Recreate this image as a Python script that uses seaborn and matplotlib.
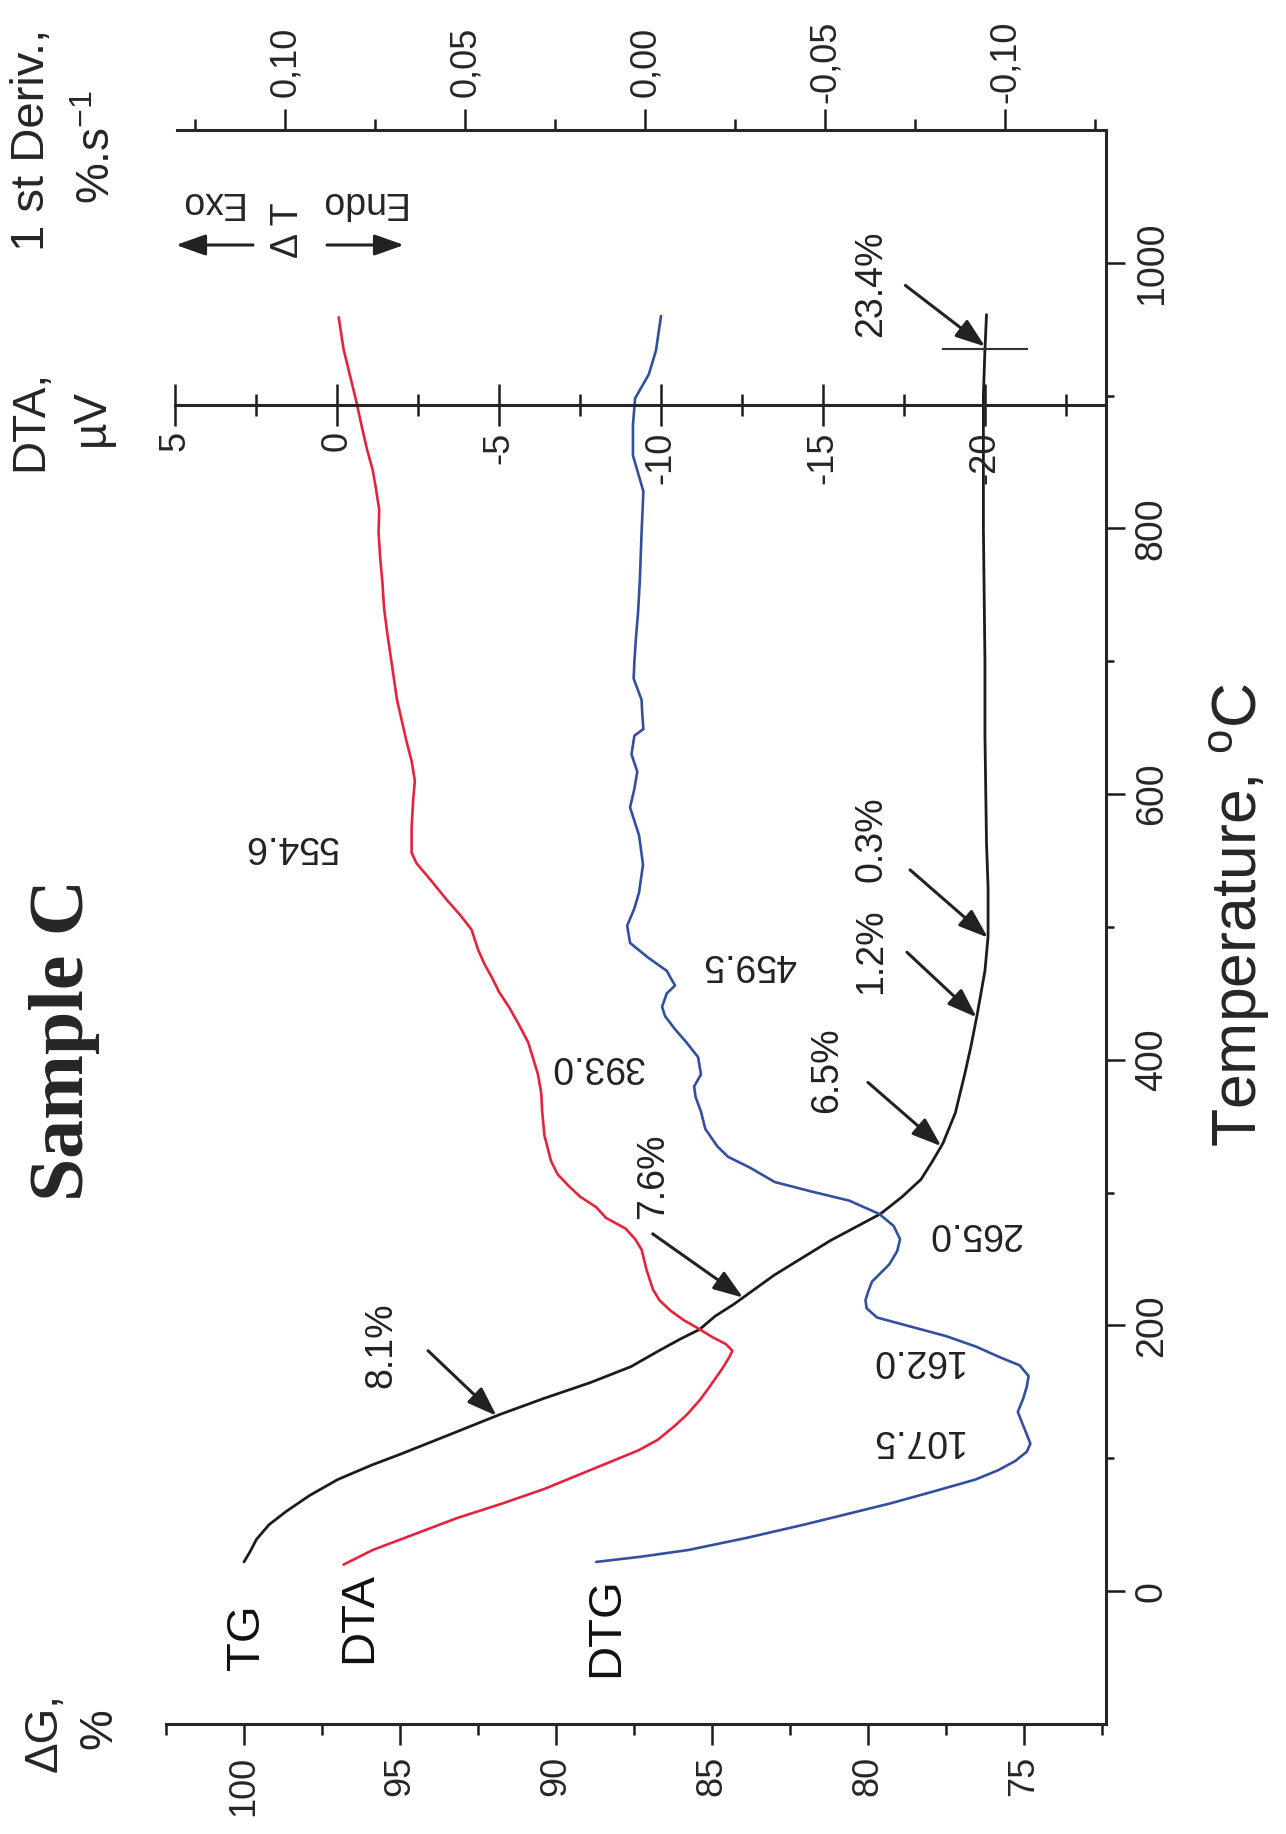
import numpy as np
import pandas as pd
import seaborn as sns
import matplotlib as mpl
import matplotlib.pyplot as plt
from matplotlib.ticker import FixedLocator

# --- data (temperature in deg C) ---
tg_temp = [22, 30, 39, 50, 60, 72, 84, 95, 103, 117, 133, 145, 157, 169, 181, 190, 197, 207,
           216, 238, 251, 264, 284, 297, 310, 323, 337, 360, 389, 410, 434, 467, 493, 530,
           563, 644, 700, 800, 900, 935, 961]
tg_mass = [100.0, 99.8, 99.6, 99.2, 98.65, 97.9, 97.0, 95.9, 95.0, 93.5, 91.8, 90.4, 88.9, 87.6,
           86.7, 86.0, 85.4, 84.9, 84.3, 83.0, 82.1, 81.2, 79.6, 78.9, 78.3, 77.95, 77.6, 77.2,
           76.9, 76.7, 76.5, 76.25, 76.15, 76.15, 76.2, 76.25, 76.25, 76.3, 76.3, 76.25, 76.2]

dta_temp = [20, 31, 43, 55, 66, 77, 88, 98, 106, 114, 124, 133, 144, 154, 168, 176, 181, 186,
            191, 197, 204, 211, 219, 227, 242, 257, 265, 273, 281, 289, 297, 305, 314, 324,
            343, 361, 375, 389, 401, 413, 427, 440, 451, 461, 472, 483, 498, 509, 520, 535,
            548, 556, 575, 596, 610, 625, 639, 655, 671, 696, 721, 740, 759, 778, 797, 814,
            830, 844, 859, 878, 895, 915, 935, 959]
dta_uv = [-0.2, -1.1, -2.4, -3.7, -5.1, -6.4, -7.5, -8.5, -9.3, -9.9, -10.4, -10.8, -11.2,
          -11.5, -11.9, -12.1, -12.2, -12.0, -11.6, -11.2, -10.7, -10.3, -9.95, -9.75, -9.55,
          -9.4, -9.2, -8.9, -8.3, -8.0, -7.5, -7.15, -6.8, -6.6, -6.4, -6.33, -6.3, -6.2,
          -6.05, -5.9, -5.6, -5.3, -5.0, -4.8, -4.55, -4.35, -4.15, -3.8, -3.4, -2.9, -2.45,
          -2.3, -2.3, -2.35, -2.4, -2.3, -2.15, -2.0, -1.85, -1.7, -1.55, -1.45, -1.4,
          -1.33, -1.28, -1.3, -1.2, -1.1, -0.93, -0.75, -0.6, -0.4, -0.2, -0.05]

dtg_temp = [22, 26, 31, 40, 50, 58, 66, 75, 84, 91, 98, 105, 111, 118, 128, 135, 145, 154,
            162, 170, 176, 184, 192, 199, 206, 213, 219, 226, 233, 246, 256, 265, 275, 284,
            290, 294, 301, 308, 319, 327, 335, 348, 361, 372, 380, 389, 402, 413, 423, 433,
            440, 450, 456, 462, 467, 477, 488, 501, 514, 526, 547, 569, 590, 604, 617, 630,
            644, 649, 660, 671, 687, 700, 720, 736, 760, 797, 828, 855, 878, 898, 916, 934, 960]
dtg_rate = [0.0136, 0.001, -0.012, -0.028, -0.044, -0.056, -0.068, -0.080, -0.0917, -0.098,
            -0.1028, -0.106, -0.107, -0.106, -0.1045, -0.1035, -0.105, -0.106, -0.1065, -0.104,
            -0.0986, -0.092, -0.0836, -0.074, -0.0644, -0.0615, -0.0612, -0.062, -0.063,
            -0.0678, -0.070, -0.0708, -0.069, -0.065, -0.060, -0.0567, -0.046, -0.036, -0.029,
            -0.023, -0.020, -0.0167, -0.0155, -0.0140, -0.0136, -0.0155, -0.0147, -0.0115,
            -0.0083, -0.0055, -0.0047, -0.0060, -0.0083, -0.0070, -0.0060, -0.0008, 0.0042,
            0.005, 0.003, 0.0017, 0.0006, 0.0017, 0.0042, 0.003, 0.0022, 0.0038, 0.003,
            0.0005, 0.0008, 0.001, 0.0032, 0.003, 0.0025, 0.002, 0.0015, 0.001, 0.0005,
            0.0034, 0.0034, 0.0028, -0.001, -0.003, -0.0044]

# mass-loss steps: label, temperature the arrow points at, text spot and arrow tail (dG %, T)
step_labels = ['8.1%', '7.6%', '6.5%', '1.2%', '0.3%', '23.4%']
step_temps = [132, 221, 335, 432, 492, 937]
step_text = [(95.6, 185), (86.9, 312), (81.3, 392), (79.9, 482), (79.9, 566), (79.9, 984)]
step_tail = [(94.1, 181), (86.9, 269), (80.0, 383), (78.75, 481), (78.65, 543), (78.8, 983)]

# peak temperatures written next to the curves
peak_labels = ['554.6', '393.0', '459.5', '265.0', '162.0', '107.5']
peak_pos = [(98.5, 561), (88.7, 395), (83.8, 472), (76.6, 270), (78.45, 174), (78.45, 114)]

curve_names = ['TG', 'DTA', 'DTG']
curve_name_pos = [(99.9, -35), (96.3, -20), (88.4, -27)]

mass_ticks = [100, 95, 90, 85, 80, 75]
temp_ticks = [0, 200, 400, 600, 800, 1000]
dta_ticks = [5, 0, -5, -10, -15, -20]
dtg_ticks = [0.10, 0.05, 0.0, -0.05, -0.10]
dtg_ticklabels = ['0,10', '0,05', '0,00', '-0,05', '-0,10']

black = '#1c1c1c'
red = '#e3243d'
blue = '#33509e'
narrow = ['Liberation Sans Narrow', 'Liberation Sans']

sns.set_theme(style='white')
plt.rcParams['font.family'] = ['Liberation Sans', 'DejaVu Sans']
plt.rcParams['axes.linewidth'] = 2.2

W, H = 1286, 1834


def fx(x):
    return x / W


def fy(y):
    return 1 - y / H


fig = plt.figure(figsize=(W / 100, H / 100), dpi=100)
ax = fig.add_axes([fx(166), fy(1724), (1106 - 166) / W, (1724 - 130) / H])
ax_dtg = ax.twiny()
ax_dta = ax.twiny()

tg = pd.DataFrame({'temp': tg_temp, 'val': tg_mass})
dta = pd.DataFrame({'temp': dta_temp, 'val': dta_uv})
dtg = pd.DataFrame({'temp': dtg_temp, 'val': dtg_rate})

sns.lineplot(data=tg, x='val', y='temp', ax=ax, sort=False, estimator=None, color=black, lw=2.0)
sns.lineplot(data=dta, x='val', y='temp', ax=ax_dta, sort=False, estimator=None, color=red, lw=1.9)
sns.lineplot(data=dtg, x='val', y='temp', ax=ax_dtg, sort=False, estimator=None, color=blue, lw=1.9)

ax.set_xlim(102.5, 72.37)
ax.set_ylim(-100, 1100)
ax_dtg.set_xlim(0.1331, -0.128)
ax_dta.set_xlim(5.28, -23.73)
for a in (ax, ax_dtg, ax_dta):
    a.set_xlabel('')
    a.set_ylabel('')
    for s in a.spines.values():
        s.set_visible(False)

# dG axis (bottom) and temperature axis (right)
ax.spines['bottom'].set_visible(True)
ax.spines['right'].set_visible(True)
ax.tick_params(axis='x', which='both', direction='out', width=1.8, labelsize=26, pad=8,
               top=False, bottom=True, color=black)
ax.tick_params(axis='x', which='major', length=15)
ax.tick_params(axis='x', which='minor', length=8)
ax.set_xticks(mass_ticks, labels=[str(t) for t in mass_ticks], rotation=90)
ax.xaxis.set_minor_locator(FixedLocator([102.5, 97.5, 92.5, 87.5, 82.5, 77.5, 72.5]))

ax.yaxis.tick_right()
ax.tick_params(axis='y', which='both', direction='out', width=1.8, labelsize=27, pad=6,
               left=False, right=True, color=black)
ax.tick_params(axis='y', which='major', length=14)
ax.tick_params(axis='y', which='minor', length=6)
ax.set_yticks(temp_ticks, labels=[str(t) for t in temp_ticks], rotation=90, va='center',
              fontfamily=narrow)
ax.yaxis.set_minor_locator(FixedLocator([100, 300, 500, 700, 900]))

# DTG axis (top)
ax_dtg.spines['top'].set_visible(True)
ax_dtg.spines['top'].set_bounds(0.13, -0.128)
ax_dtg.tick_params(axis='x', which='both', direction='out', width=1.8, labelsize=26, pad=34,
                   top=True, bottom=False, labeltop=True, labelbottom=False, color=black)
ax_dtg.tick_params(axis='x', which='major', length=15)
ax_dtg.tick_params(axis='x', which='minor', length=8)
ax_dtg.set_xticks(dtg_ticks, labels=dtg_ticklabels, rotation=90, va='center')
ax_dtg.xaxis.set_minor_locator(FixedLocator([0.125, 0.075, 0.025, -0.025, -0.075, -0.125]))

# DTA axis, drawn inside the plot at about 893 C
ax_dta.xaxis.tick_bottom()
ax_dta.spines['bottom'].set_visible(True)
ax_dta.spines['bottom'].set_position(('data', 893))
ax_dta.spines['bottom'].set_bounds(5, -23.73)
ax_dta.tick_params(axis='x', which='both', direction='inout', width=1.8, labelsize=26, pad=4,
                   top=False, bottom=True, labeltop=False, labelbottom=True, color=black)
ax_dta.tick_params(axis='x', which='major', length=30)
ax_dta.tick_params(axis='x', which='minor', length=16)
ax_dta.set_xticks(dta_ticks, labels=[str(t) for t in dta_ticks], rotation=90)
ax_dta.xaxis.set_minor_locator(FixedLocator([2.5, -2.5, -7.5, -12.5, -17.5, -22.5]))

# mass loss arrows
arrow_kw = dict(arrowstyle='-|>,head_length=0.9,head_width=0.32', color='#222222', lw=2.2,
                mutation_scale=20, shrinkA=0, shrinkB=0)
for lab, t, tpos, tail in zip(step_labels, step_temps, step_text, step_tail):
    tip = (np.interp(t, tg_temp, tg_mass), t)
    ax.annotate('', xy=tip, xytext=tail, arrowprops=arrow_kw)
    ax.text(tpos[0], tpos[1], lab, rotation=90, ha='center', va='center', fontsize=27,
            color='#222222')

# cross mark at the end of the TG run
ax.plot(np.interp(935, tg_temp, tg_mass), 935, marker='_', ms=62, mew=1.5, color='#333333')

for lab, pos in zip(peak_labels, peak_pos):
    ax.text(pos[0], pos[1], lab, rotation=180, ha='center', va='center', fontsize=27,
            color='#222222')

for lab, pos in zip(curve_names, curve_name_pos):
    ax.text(pos[0], pos[1], lab, rotation=90, ha='center', va='center', fontsize=34,
            color='#111111')

# Exo / Endo marker
fig.text(fx(210), fy(202), 'Exo', rotation=180, ha='center', va='center', fontsize=27)
fig.text(fx(361), fy(202), 'Endo', rotation=180, ha='center', va='center', fontsize=27)
fig.text(fx(288), fy(230), '\u0394 T', rotation=90, ha='center', va='center', fontsize=27)
ax.annotate('', xy=(fx(176), fy(245)), xytext=(fx(253), fy(245)), xycoords='figure fraction',
            arrowprops=arrow_kw)
ax.annotate('', xy=(fx(404), fy(245)), xytext=(fx(327), fy(245)), xycoords='figure fraction',
            arrowprops=arrow_kw)

# axis captions
fig.text(fx(32), fy(140), '1 st Deriv.,', rotation=90, ha='center', va='center', fontsize=34)
fig.text(fx(98), fy(147), '%.s$^{\\mathregular{-1}}$', rotation=90, ha='center', va='center',
         fontsize=33)
fig.text(fx(30), fy(420), 'DTA,', rotation=90, ha='center', va='center', fontsize=33)
fig.text(fx(92), fy(418), '\u00b5V', rotation=90, ha='center', va='center', fontsize=33)
fig.text(fx(45), fy(1733), '\u0394G,', rotation=90, ha='center', va='center', fontsize=33)
fig.text(fx(99), fy(1729), '%', rotation=90, ha='center', va='center', fontsize=33)
fig.text(fx(64), fy(1040), 'Sample C', rotation=90, ha='center', va='center', fontsize=56,
         fontweight='bold', family=['Liberation Serif', 'DejaVu Serif'])
fig.text(fx(1240), fy(915), 'Temperature, $^{\\mathregular{o}}$C', rotation=90, ha='center',
         va='center', fontsize=45, family=narrow)

fig.savefig('out.png', dpi=100)
